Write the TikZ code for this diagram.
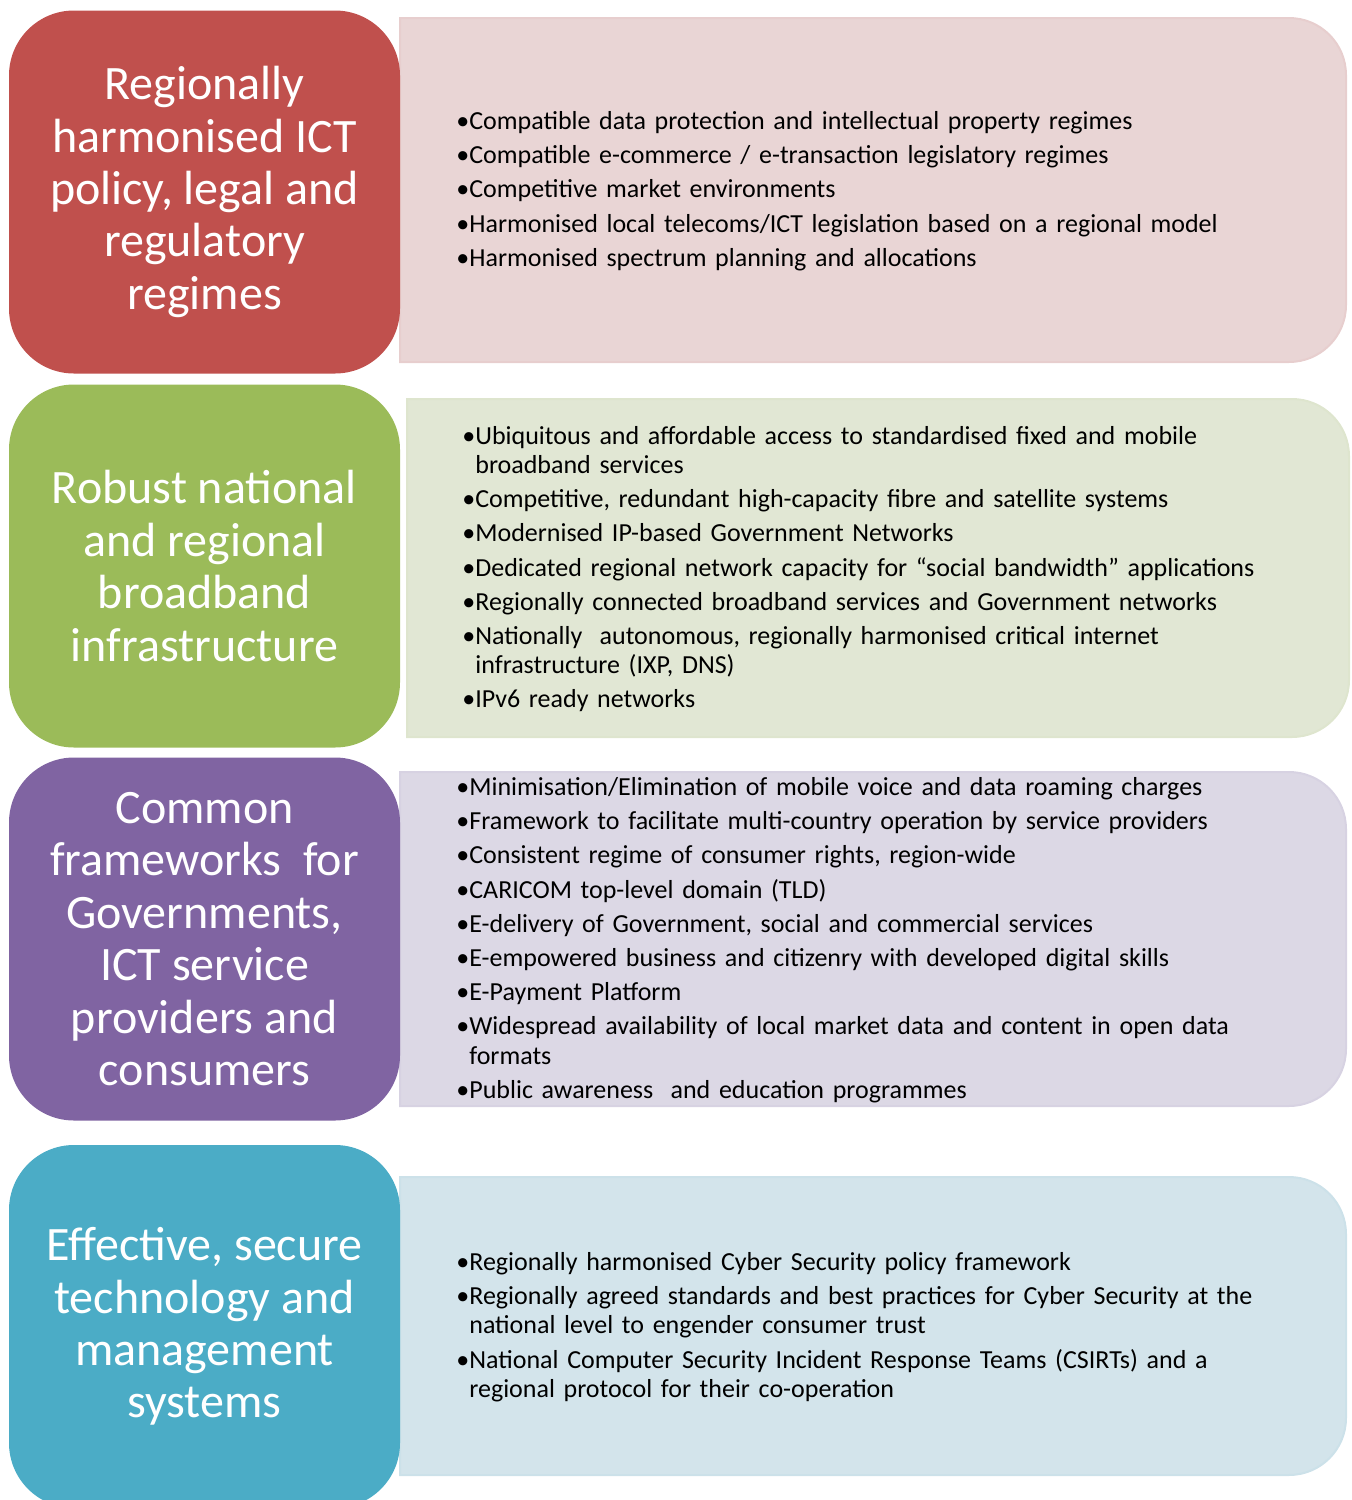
\documentclass[tikz,border=0pt]{standalone}
\usepackage{fontspec}
\setmainfont{Carlito}
\usepackage{tikz}
\usetikzlibrary{positioning}
\definecolor{policy}{RGB}{192, 80, 77}
\definecolor{broadband}{RGB}{155, 187, 89}
\definecolor{frameworks}{RGB}{128, 100, 162}
\definecolor{security}{RGB}{75, 172, 198}
\definecolor{policylight}{RGB}{233, 213, 213}
\definecolor{broadbandlight}{RGB}{225, 231, 212}
\definecolor{frameworkslight}{RGB}{220, 216, 229}
\definecolor{securitylight}{RGB}{211, 228, 235}
\newcommand{\bulletitem}[1]{\par\setbox0\hbox{•}\hangindent=\wd0\hangafter=1\noindent\box0 #1}
\tikzset{
    heading/.style={rectangle, rounded corners=32.5pt, minimum width=195.5pt, minimum height=181.5pt, inner sep=0pt, align=center, text=white, font=\fontsize{24}{26.2}\selectfont},
    detail/.style={anchor=west, inner sep=0pt, text width=450pt, align=left, font=\fontsize{13}{14.6}\selectfont, execute at begin node={\setlength{\parskip}{2.5pt}}},
    panel/.style={line width=1pt}
}

\begin{document}
\begin{tikzpicture}[x=0.5pt, y=-0.5pt]
    \useasboundingbox (0,0) rectangle (1351,1500);
    \clip (0,0) rectangle (1351,1500);

    % Detail panels
    \draw[panel, draw=policylight!95!policy, fill=policylight] (873,362) [rounded corners=28.5pt] -- (1346,362) -- (1346,18) -- (873,18) [sharp corners] -- (400,18) -- (400,362) -- cycle;
    \draw[panel, draw=broadbandlight!95!broadband, fill=broadbandlight] (878,737) [rounded corners=28.5pt] -- (1349,737) -- (1349,399) -- (878,399) [sharp corners] -- (407,399) -- (407,737) -- cycle;
    \draw[panel, draw=frameworkslight!95!frameworks, fill=frameworkslight] (873,1106) [rounded corners=28.5pt] -- (1346,1106) -- (1346,772) -- (873,772) [sharp corners] -- (400,772) -- (400,1106) -- cycle;
    \draw[panel, draw=securitylight!95!security, fill=securitylight] (873,1475) [rounded corners=28.5pt] -- (1346,1475) -- (1346,1177) -- (873,1177) [sharp corners] -- (400,1177) -- (400,1475) -- cycle;

    % Headings
    \node[heading, fill=policy] (policy) at (204.5,192) {Regionally\\harmonised ICT\\policy, legal and\\regulatory\\regimes};
    \node[heading, fill=broadband] (broadband) at (204.5,566) {Robust national\\and regional\\broadband\\infrastructure};
    \node[heading, fill=frameworks] (frameworks) at (204.5,939) {Common\\frameworks~ for\\Governments,\\ICT service\\providers and\\consumers};
    \node[heading, fill=security] (security) at (204.5,1326.5) {Effective, secure\\technology and\\management\\systems};

    % Details
    \node[detail] (policytext) at (456,183) {%
        \bulletitem{Compatible data protection and intellectual property regimes}
        \bulletitem{Compatible e-commerce / e-transaction legislatory regimes}
        \bulletitem{Competitive market environments}
        \bulletitem{Harmonised local telecoms/ICT legislation based on a regional model}
        \bulletitem{Harmonised spectrum planning and allocations}\par};
    \node[detail] (broadbandtext) at (462,561) {%
        \bulletitem{Ubiquitous and affordable access to standardised fixed and mobile\newline broadband services}
        \bulletitem{Competitive, redundant high-capacity fibre and satellite systems}
        \bulletitem{Modernised IP-based Government Networks}
        \bulletitem{Dedicated regional network capacity for “social bandwidth” applications}
        \bulletitem{Regionally connected broadband services and Government networks}
        \bulletitem{Nationally~ autonomous, regionally harmonised critical internet\newline infrastructure (IXP, DNS)}
        \bulletitem{IPv6 ready networks}\par};
    \node[detail] (frameworkstext) at (456,932) {%
        \bulletitem{Minimisation/Elimination of mobile voice and data roaming charges}
        \bulletitem{Framework to facilitate multi-country operation by service providers}
        \bulletitem{Consistent regime of consumer rights, region-wide}
        \bulletitem{CARICOM top-level domain (TLD)}
        \bulletitem{E-delivery of Government, social and commercial services}
        \bulletitem{E-empowered business and citizenry with developed digital skills}
        \bulletitem{E-Payment Platform}
        \bulletitem{Widespread availability of local market data and content in open data\newline formats}
        \bulletitem{Public awareness~ and education programmes}\par};
    \node[detail] (securitytext) at (456,1319) {%
        \bulletitem{Regionally harmonised Cyber Security policy framework}
        \bulletitem{Regionally agreed standards and best practices for Cyber Security at the\newline national level to engender consumer trust}
        \bulletitem{National Computer Security Incident Response Teams (CSIRTs) and a\newline regional protocol for their co-operation}\par};
\end{tikzpicture}
\end{document}
